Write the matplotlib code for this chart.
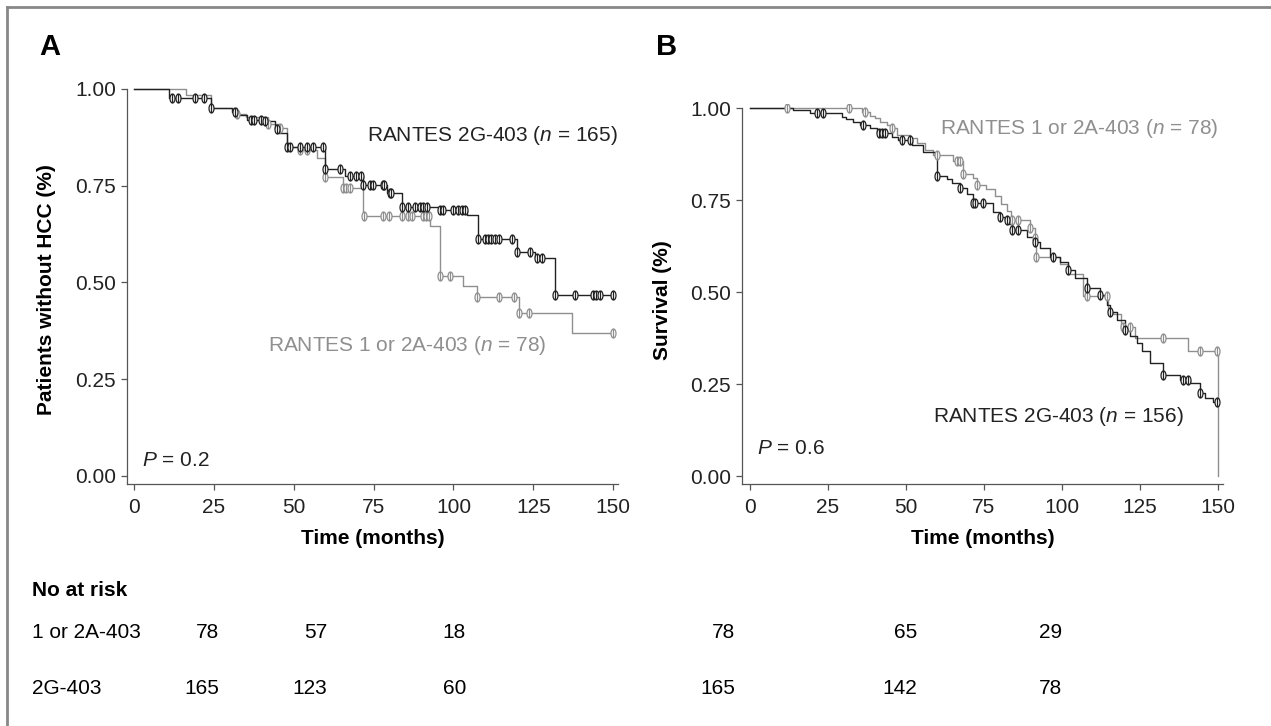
import numpy as np
import matplotlib
matplotlib.use("Agg")
import matplotlib.pyplot as plt
from matplotlib.path import Path
from matplotlib.lines import Line2D

plt.rcParams['font.family'] = ['Liberation Sans', 'DejaVu Sans']
plt.rcParams['mathtext.fontset'] = 'custom'
plt.rcParams['mathtext.rm'] = 'Liberation Sans'
plt.rcParams['mathtext.it'] = 'Liberation Sans:italic'

# ---- panel A: time to HCC ----
a_black_t = [0, 11, 24, 30.6, 32.7, 35.3, 40.5, 44.2, 45.2, 47.8, 59.8, 66, 71.8, 79.1,
             83.8, 95.8, 104.2, 107.8, 119.8, 125.6, 131.8]
a_black_s = [1.0, 0.976, 0.95, 0.941, 0.934, 0.921, 0.916, 0.896, 0.885, 0.849, 0.792,
             0.774, 0.752, 0.73, 0.696, 0.687, 0.674, 0.612, 0.58, 0.563, 0.468]
a_black_cens = [11.8, 13.9, 19.1, 22, 24, 31.7, 36.5, 37.6, 39.9, 41, 44.8, 47.8, 48.8,
                51.9, 54, 56.1, 59.2, 59.8, 64.5, 67.6, 69.6, 71.2, 71.8, 73.8, 74.8, 77.9,
                78.4, 80, 80.5, 83.8, 85.9, 88, 89.5, 90.6, 91.6, 95.8, 96.8, 99.9, 101.5,
                102.6, 103.6, 107.8, 109.9, 110.9, 111.9, 112.9, 114.1, 118.3, 119.8, 124,
                126, 127.7, 131.8, 138, 143.7, 144.7, 145.8, 150]

a_gray_t = [0, 16.2, 24, 32.2, 35, 42, 45.5, 47.8, 52, 57.2, 59.8, 65.5, 71.8, 92.7,
            95.8, 103.1, 107.3, 120.4, 137.1]
a_gray_s = [1.0, 0.984, 0.95, 0.935, 0.928, 0.91, 0.9, 0.85, 0.842, 0.821, 0.773, 0.743,
            0.673, 0.646, 0.517, 0.491, 0.463, 0.421, 0.37]
a_gray_cens = [32.2, 42, 45.7, 52, 54, 59.8, 65.5, 66.5, 67.6, 72, 77.9, 79.8, 83.8, 85.9,
               87, 90.6, 91.4, 92.2, 95.8, 99, 107.3, 114.1, 118.8, 120.4, 123.5, 150]

# ---- panel B: survival ----
b_black_t = [0, 13.9, 19.2, 29.4, 30.8, 33.1, 35.3, 38.5, 40.6, 45.4, 47.5, 51.8, 55.6,
             59.3, 59.8, 63, 64.6, 67.3, 69.4, 71.6, 78, 80.1, 81.7, 82.7, 83.9, 88.7, 91.3,
             92.9, 96.2, 99.4, 102, 104.2, 107.9, 112.2, 114.3, 115.4, 117.5, 120.2, 121.8,
             123.9, 125.5, 128.2, 132.5, 137.8, 141, 144.2, 145.8, 148.5]
b_black_s = [1.0, 0.995, 0.986, 0.976, 0.97, 0.963, 0.954, 0.945, 0.931, 0.92, 0.913, 0.9,
             0.881, 0.868, 0.815, 0.806, 0.795, 0.782, 0.765, 0.742, 0.718, 0.705, 0.696,
             0.684, 0.668, 0.65, 0.637, 0.62, 0.596, 0.582, 0.56, 0.537, 0.51, 0.492, 0.465,
             0.447, 0.424, 0.397, 0.38, 0.361, 0.34, 0.306, 0.274, 0.261, 0.252, 0.225,
             0.211, 0.202]
b_black_cens = [21.4, 23.5, 36.3, 41.2, 42.2, 43.3, 48.8, 51.4, 59.8, 67.3, 71.6, 72.1,
                74.8, 80.1, 82.3, 83.9, 86, 91.3, 97.2, 102, 107.9, 112.2, 115.4, 120.2,
                132.5, 138.9, 140.5, 144.2, 149.6]

b_gray_t = [0, 35.8, 38.5, 40.1, 41.7, 43.8, 45.4, 47, 51.3, 53.4, 56.1, 58.8, 65.2, 68.4,
            71.6, 72.6, 75.8, 78.5, 80.6, 82.3, 83.5, 89.7, 91.3, 91.8, 99.4, 102, 106.8,
            114.8, 116.4, 119, 123.4, 140.5, 150]
b_gray_s = [1.0, 0.99, 0.978, 0.972, 0.963, 0.954, 0.945, 0.927, 0.918, 0.904, 0.885,
            0.872, 0.855, 0.822, 0.81, 0.791, 0.78, 0.76, 0.74, 0.72, 0.697, 0.673, 0.646,
            0.596, 0.575, 0.55, 0.49, 0.447, 0.44, 0.406, 0.375, 0.34, 0.0]
b_gray_cens = [11.8, 31.8, 36.9, 45.4, 59.8, 66.2, 67.3, 68.4, 72.6, 84, 86, 89.7, 91.3,
               91.8, 107.9, 114.3, 119.6, 121.8, 132.5, 144.2, 149.6]

# ---- numbers at risk ----
risk_labels = ['1 or 2A-403', '2G-403']
risk_a = [[78, 57, 18], [165, 123, 60]]
risk_b = [[78, 65, 29], [165, 142, 78]]

xticks = [0, 25, 50, 75, 100, 125, 150]
yticks = [0.0, 0.25, 0.5, 0.75, 1.0]

BLACK = '#222222'
GRAY = '#8f8f8f'
AXC = '#555555'
FS = 15

W, H = 1271, 726
fig = plt.figure(figsize=(W / 100, H / 100), dpi=100)


def px_axes(left, top, right, bottom):
    return fig.add_axes([left / W, 1 - bottom / H, (right - left) / W, (bottom - top) / H])


# censor mark: narrow ellipse with a vertical stroke
th = np.linspace(0, 2 * np.pi, 41)
ell = np.column_stack([0.55 * np.sin(th), np.cos(th)])
verts = np.vstack([ell, [[0, -1.0], [0, 1.0]]])
codes = [Path.MOVETO] + [Path.LINETO] * (len(ell) - 1) + [Path.MOVETO, Path.LINETO]
cmark = Path(verts, codes)


def km(ax, t, s, cens, color, tend=150):
    t = list(t)
    s = list(s)
    if t[-1] < tend:
        t = t + [tend]
        s = s + [s[-1]]
    ax.step(t, s, where='post', color=color, lw=1.0, zorder=3)
    idx = np.searchsorted(t, cens, side='right') - 1
    cy = np.array(s)[idx]
    ax.plot(cens, cy, ls='none', marker=cmark, ms=6.5, mfc='white', mec=color,
            mew=0.9, color=color, zorder=4)


def style(ax, ylo, yhi, xlo, xhi):
    ax.set_xlim(xlo, xhi)
    ax.set_ylim(ylo, yhi)
    for sp in ['top', 'right']:
        ax.spines[sp].set_visible(False)
    ax.spines['left'].set_bounds(ylo, 1.0)
    for sp in ['left', 'bottom']:
        ax.spines[sp].set_color(AXC)
        ax.spines[sp].set_linewidth(0.9)
    ax.set_xticks(xticks)
    ax.set_yticks(yticks)
    ax.set_yticklabels(['%.2f' % v for v in yticks])
    ax.tick_params(direction='out', length=4, width=0.9, color=AXC,
                   labelsize=FS, labelcolor='#222222', pad=4)
    ax.tick_params(axis='x', pad=6)
    ax.set_xlabel('Time (months)', fontsize=FS, fontweight='bold', labelpad=9)


# panel A
axA = px_axes(127, 85, 618, 484)
km(axA, a_gray_t, a_gray_s, a_gray_cens, GRAY)
km(axA, a_black_t, a_black_s, a_black_cens, BLACK)
style(axA, -0.0207, 1.0103, -2.19, 151.5)
axA.text(73, 0.879, r'RANTES 2G-403 ($n$ = 165)', fontsize=FS, color=BLACK, va='center')
axA.text(42, 0.338, r'RANTES 1 or 2A-403 ($n$ = 78)', fontsize=FS, color=GRAY, va='center')
axA.text(2.5, 0.04, r'$P$ = 0.2', fontsize=FS, color=BLACK, va='center')
fig.text(47 / W, 1 - 290 / H, 'Patients without HCC (%)', rotation=90, ha='center',
         va='center', fontsize=FS, fontweight='bold')
fig.text(50 / W, 1 - 47 / H, 'A', ha='center', va='center', fontsize=21, fontweight='bold')

# panel B
axB = px_axes(742, 104, 1223, 484)
km(axB, b_gray_t, b_gray_s, b_gray_cens, GRAY)
km(axB, b_black_t, b_black_s, b_black_cens, BLACK)
style(axB, -0.0217, 1.0109, -2.56, 151.6)
axB.text(61, 0.943, r'RANTES 1 or 2A-403 ($n$ = 78)', fontsize=FS, color=GRAY, va='center')
axB.text(58.7, 0.163, r'RANTES 2G-403 ($n$ = 156)', fontsize=FS, color=BLACK, va='center')
axB.text(2.2, 0.076, r'$P$ = 0.6', fontsize=FS, color=BLACK, va='center')
fig.text(663 / W, 1 - 300 / H, 'Survival (%)', rotation=90, ha='center',
         va='center', fontsize=FS, fontweight='bold')
fig.text(667 / W, 1 - 47 / H, 'B', ha='center', va='center', fontsize=21, fontweight='bold')

# numbers at risk table (columns right-aligned)
fig.text(32 / W, 1 - 591 / H, 'No at risk', fontsize=FS, fontweight='bold', va='center')
row_y = [632, 688]
cols_a = [219, 327, 466]
cols_b = [735, 917, 1062]
for r, lab in enumerate(risk_labels):
    fig.text(32 / W, 1 - row_y[r] / H, lab, fontsize=FS, va='center')
    for c in range(3):
        fig.text(cols_a[c] / W, 1 - row_y[r] / H, str(risk_a[r][c]), fontsize=FS,
                 va='center', ha='right')
        fig.text(cols_b[c] / W, 1 - row_y[r] / H, str(risk_b[r][c]), fontsize=FS,
                 va='center', ha='right')

# gray frame (top and left edges)
fig.add_artist(Line2D([7 / W, 7 / W], [0, 1 - 7 / H], transform=fig.transFigure,
                      color='#888888', lw=2))
fig.add_artist(Line2D([7 / W, 1], [1 - 7 / H, 1 - 7 / H], transform=fig.transFigure,
                      color='#888888', lw=2))

fig.savefig('out.png', dpi=100)
